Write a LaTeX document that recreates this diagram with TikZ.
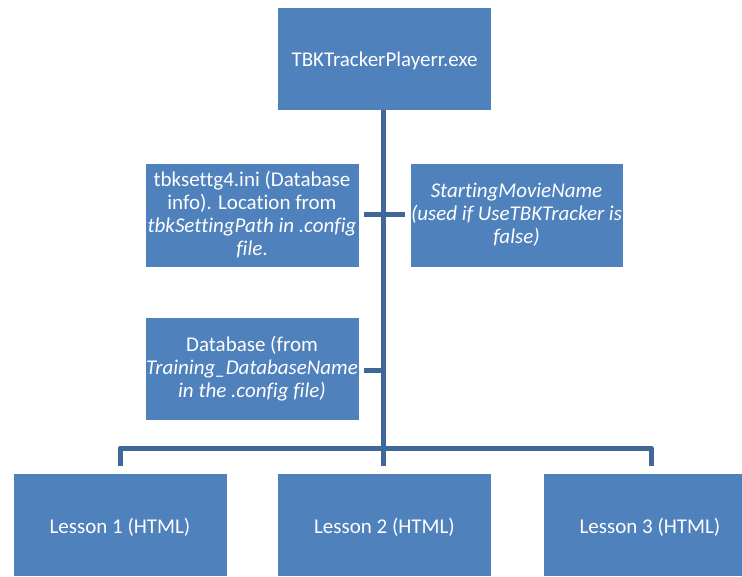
\documentclass[tikz,border=0pt]{standalone}
\usepackage{fontspec}
\setmainfont{Carlito}[Ligatures=CommonOff]
\definecolor{boxblue}{HTML}{4F81BD}
\definecolor{lineblue}{HTML}{3F6898}
\begin{document}
\begin{tikzpicture}[x=1pt,y=-1pt,
  box/.style={rectangle, fill=boxblue, draw=white, line width=0.6pt, text=white,
    minimum width=214pt, minimum height=103pt, inner sep=0pt, align=center,
    font=\fontsize{21}{23}\selectfont},
  onebox/.style={box, text height=22pt, text depth=5pt},
  conn/.style={draw=lineblue, line width=5pt, line join=round}]
\useasboundingbox (0,0) rectangle (742,577);
\begin{scope}
\clip (0,0) rectangle (742,577);
\node[onebox] (top) at (384.5,58.5) {TBKTrackerPlayerr.exe};
\node[box, minimum height=104pt] (ini) at (252,215) {tbksettg4.ini (Database\\info). Location from\\\textit{tbkSettingPath in .config}\\\textit{file}.};
\node[box, minimum width=213pt, minimum height=104pt] (movie) at (516.5,215) {\textit{StartingMovieName}\\\textit{(used if UseTBKTracker is}\\\textit{false)}};
\node[box] (db) at (252,368.5) {Database (from\\\textit{Training\_DatabaseName}\\\textit{in the .config file)}};
\node[onebox] (l1) at (120,524.5) {Lesson 1 (HTML)};
\node[onebox] (l2) at (384.5,524.5) {Lesson 2 (HTML)};
\node[onebox] (l3) at (650,524.5) {Lesson 3 (HTML)};
\end{scope}
\coordinate (bus) at (383,448);
\coordinate (trunkTop) at (383,110);
\draw[conn, shorten >=7pt] (trunkTop) -- (trunkTop |- l2.north);
\draw[conn] ([yshift=7pt]l1.north) |- (bus) -| ([xshift=1pt,yshift=7pt]l3.north);
\draw[conn, shorten <=5pt] (ini.east) -- (ini.east -| trunkTop);
\draw[conn, shorten >=5pt] (ini.east -| trunkTop) -- (ini.east -| movie.west);
\draw[conn, shorten <=5pt] ([yshift=-2.5pt]db.east) -- ([yshift=-2.5pt]db.east -| trunkTop);
\end{tikzpicture}
\end{document}
